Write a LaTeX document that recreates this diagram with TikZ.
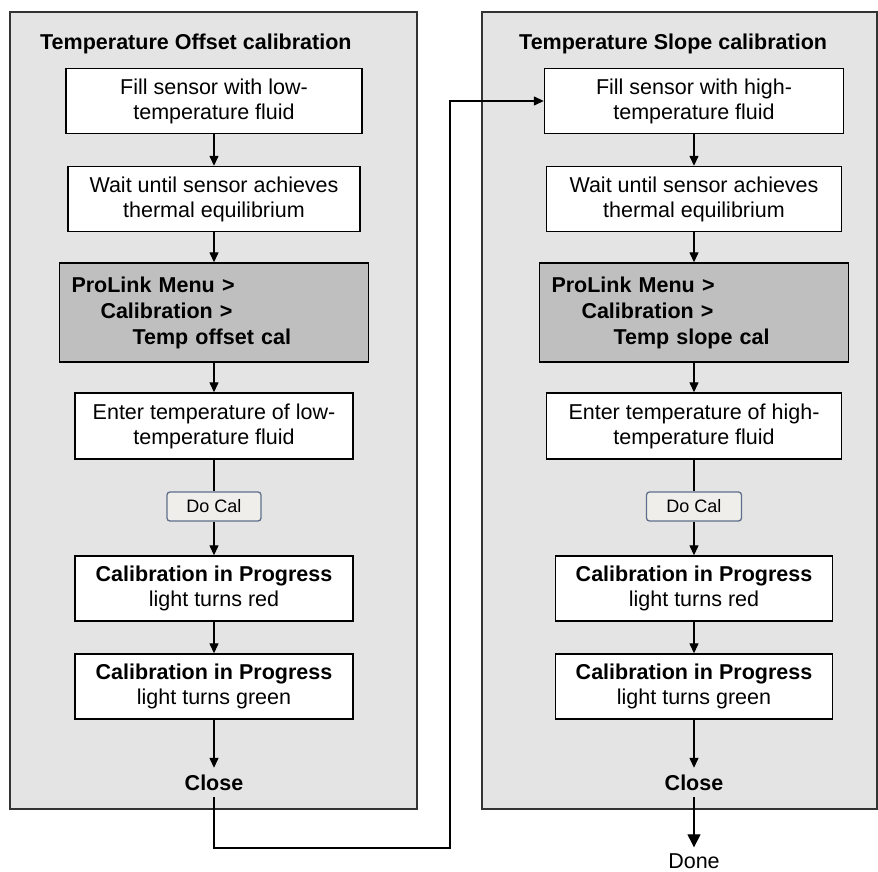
\documentclass[tikz,border=0pt]{standalone}
\usepackage{fontspec}
\setmainfont{Liberation Sans}
\usetikzlibrary{arrows.meta}
\definecolor{panelgray}{HTML}{E4E4E4}
\definecolor{menugray}{HTML}{BFBFBF}
\definecolor{btnborder}{HTML}{5E6F8C}
\definecolor{btnfill}{HTML}{EFEEEA}
\begin{document}
\begin{tikzpicture}[x=1pt,y=-1pt,
  every node/.style={font=\fontsize{21.5}{25}\selectfont},
  panel/.style={draw=black!80, fill=panelgray, line width=1.4pt},
  titletext/.style={anchor=base west, inner sep=0pt, font=\bfseries\fontsize{21.5}{25}\selectfont},
  stepbox/.style={draw=black, fill=white, line width=1.4pt, align=center, inner sep=0pt, minimum height=65pt},
  menubox/.style={draw=black, fill=menugray, line width=1.4pt, align=left, text width=285pt, inner xsep=12pt, inner ysep=0pt, minimum height=99pt, font=\bfseries\fontsize{21.5}{26}\selectfont},
  btn/.style={draw=btnborder, fill=btnfill, rounded corners=3pt, line width=1.3pt, minimum width=94pt, minimum height=29pt, inner sep=0pt, font=\fontsize{18}{20}\selectfont},
  endtext/.style={inner xsep=0pt, inner ysep=0pt, minimum height=29pt},
  flow/.style={line width=1.3pt, -{Triangle[length=10pt,width=9pt]}},
  plainline/.style={line width=1.3pt},
  bigflow/.style={line width=1.3pt, -{Triangle[length=13pt,width=13pt]}},
]
\useasboundingbox (0,0) rectangle (878,872);

% panels
\draw[panel] (10,12) rectangle (417,809);
\draw[panel] (482,12) rectangle (877,809);

% left column
\node[titletext] (lt) at (40,50) {Temperature Offset calibration};
\node[stepbox, minimum width=296pt] (l1) at (214,101) {Fill sensor with low-\\temperature fluid};
\node[stepbox, minimum width=292pt] (l2) at (214,199) {Wait until sensor achieves\\thermal equilibrium};
\node[menubox] (l3) at (214,312.5) {ProLink Menu >\\\hspace*{29pt}Calibration >\\\hspace*{61pt}Temp offset cal};
\node[stepbox, minimum width=278pt, minimum height=66pt] (l4) at (214,426) {Enter temperature of low-\\temperature fluid};
\node[btn] (lb) at (214,506.5) {Do Cal};
\node[stepbox, minimum width=278pt] (l5) at (214,588.5) {\textbf{Calibration in Progress}\\light turns red};
\node[stepbox, minimum width=278pt] (l6) at (214,686.5) {\textbf{Calibration in Progress}\\light turns green};
\node[endtext, font=\bfseries\fontsize{21.5}{25}\selectfont] (lc) at (214,782.5) {Close};

% right column
\node[titletext] (rt) at (519,50) {Temperature Slope calibration};
\node[stepbox, minimum width=299pt] (r1) at (694,101) {Fill sensor with high-\\temperature fluid};
\node[stepbox, minimum width=295pt] (r2) at (694,199) {Wait until sensor achieves\\thermal equilibrium};
\node[menubox] (r3) at (694,312.5) {ProLink Menu >\\\hspace*{30pt}Calibration >\\\hspace*{62pt}Temp slope cal};
\node[stepbox, minimum width=295pt, minimum height=66pt] (r4) at (694,426) {Enter temperature of high-\\temperature fluid};
\node[btn, minimum width=95pt] (rb) at (694,506.5) {Do Cal};
\node[stepbox, minimum width=277pt] (r5) at (694,588.5) {\textbf{Calibration in Progress}\\light turns red};
\node[stepbox, minimum width=277pt] (r6) at (694,686.5) {\textbf{Calibration in Progress}\\light turns green};
\node[endtext, font=\bfseries\fontsize{21.5}{25}\selectfont] (rc) at (694,782.5) {Close};
\node[inner xsep=0pt, inner ysep=6pt] (done) at (694,861) {Done};

% left connectors
\draw[flow] (l1) -- (l2);
\draw[flow] (l2) -- (l3);
\draw[flow] (l3) -- (l4);
\draw[plainline] (l4) -- (lb);
\draw[flow] (lb) -- (l5);
\draw[flow] (l5) -- (l6);
\draw[flow] (l6) -- (lc);

% link between panels
\coordinate (k1) at (214,848);
\coordinate (k2) at (450,848);
\coordinate (k3) at (450,101);
\draw[flow] (lc.south) -- (k1) -- (k2) -- (k3) -- (r1.west);

% right connectors
\draw[flow] (r1) -- (r2);
\draw[flow] (r2) -- (r3);
\draw[flow] (r3) -- (r4);
\draw[plainline] (r4) -- (rb);
\draw[flow] (rb) -- (r5);
\draw[flow] (r5) -- (r6);
\draw[flow] (r6) -- (rc);
\draw[bigflow] (rc) -- (done);
\end{tikzpicture}
\end{document}
